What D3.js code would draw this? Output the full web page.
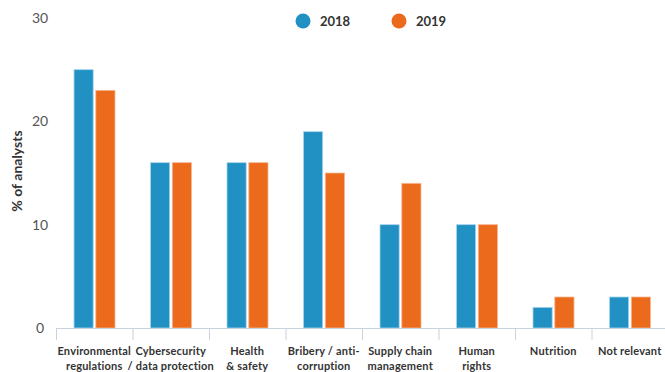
<!DOCTYPE html>
<html>
<head>
<meta charset="utf-8">
<script src="https://cdn.jsdelivr.net/npm/d3@7"></script>
<style>
  body { margin: 0; background: #fff; }
  svg text { font-family: Lato, "Open Sans", sans-serif; }
</style>
</head>
<body>
<div id="chart"></div>
<script>
var categories = [
  ["Environmental", "regulations"],
  ["Cybersecurity", "/ data protection"],
  ["Health", "& safety"],
  ["Bribery / anti-", "corruption"],
  ["Supply chain", "management"],
  ["Human", "rights"],
  ["Nutrition"],
  ["Not relevant"]
];
var years = ["2018", "2019"];
var values2018 = [25, 16, 16, 19, 10, 10, 2, 3];
var values2019 = [23, 16, 16, 15, 14, 10, 3, 3];
var yTicks = [0, 10, 20, 30];
var colors = { "2018": "#2191c4", "2019": "#ec6a1c" };

var width = 665, height = 372;
var svg = d3.select("#chart").append("svg").attr("width", width).attr("height", height);

var x = d3.scaleBand().domain(d3.range(categories.length)).range([56, 668]);
var x1 = d3.scaleBand().domain(years).range([18, 59]).paddingInner(0.12);
var y = d3.scaleLinear().domain([0, 30]).range([328, 18]);

var series = { "2018": values2018, "2019": values2019 };

// bars
years.forEach(function(yr) {
  svg.append("g").selectAll("rect")
    .data(series[yr])
  .enter().append("rect")
    .attr("x", function(d, i) { return x(i) + x1(yr); })
    .attr("width", x1.bandwidth())
    .attr("y", function(d) { return y(d); })
    .attr("height", function(d) { return y(0) - y(d); })
    .attr("fill", colors[yr])
    .attr("stroke", yr === "2018" ? "#a9d6ee" : "#f6b892")
    .attr("stroke-width", 0.8);
});

// x axis
svg.append("line")
  .attr("x1", 56).attr("x2", 668)
  .attr("y1", 328.5).attr("y2", 328.5)
  .attr("stroke", "#c9d2de");
svg.append("g").selectAll("line")
  .data(d3.range(categories.length))
  .enter().append("line")
    .attr("x1", function(i) { return x(i) + 0.5; })
    .attr("x2", function(i) { return x(i) + 0.5; })
    .attr("y1", 328).attr("y2", 340)
    .attr("stroke", "#c9d2de");

var labels = svg.append("g").selectAll("text")
  .data(categories)
  .enter().append("text")
    .attr("x", function(d, i) { return x(i) + x.bandwidth() / 2; })
    .attr("y", 355)
    .attr("text-anchor", "middle")
    .attr("font-size", 11)
    .attr("font-weight", "bold")
    .attr("letter-spacing", 0.2)
    .attr("fill", "#333");
labels.selectAll("tspan")
  .data(function(d) { return d; })
  .enter().append("tspan")
    .attr("x", function() { return d3.select(this.parentNode).attr("x"); })
    .attr("dy", function(d, j) { return j === 0 ? 0 : 15; })
    .text(function(d) { return d; });

// y tick labels
svg.append("g").selectAll("text")
  .data(yTicks)
  .enter().append("text")
    .attr("x", 40)
    .attr("y", function(d) { return y(d) + 5; })
    .attr("text-anchor", "middle")
    .attr("font-size", 14)
    .attr("fill", "#555")
    .text(function(d) { return d; });

svg.append("text")
  .attr("transform", "translate(22,171) rotate(-90)")
  .attr("text-anchor", "middle")
  .attr("font-size", 14)
  .attr("font-weight", "bold")
  .attr("fill", "#333")
  .text("% of analysts");

// legend
var legend = svg.append("g").selectAll("g")
  .data(years)
  .enter().append("g")
    .attr("transform", function(d, i) { return "translate(" + (303 + i * 96) + ",21)"; });
legend.append("circle").attr("r", 7.5).attr("fill", function(d) { return colors[d]; });
legend.append("text")
  .attr("x", 17).attr("y", 5)
  .attr("font-size", 13)
  .attr("font-weight", "bold")
  .attr("fill", "#333")
  .text(function(d) { return d; });
</script>
</body>
</html>
